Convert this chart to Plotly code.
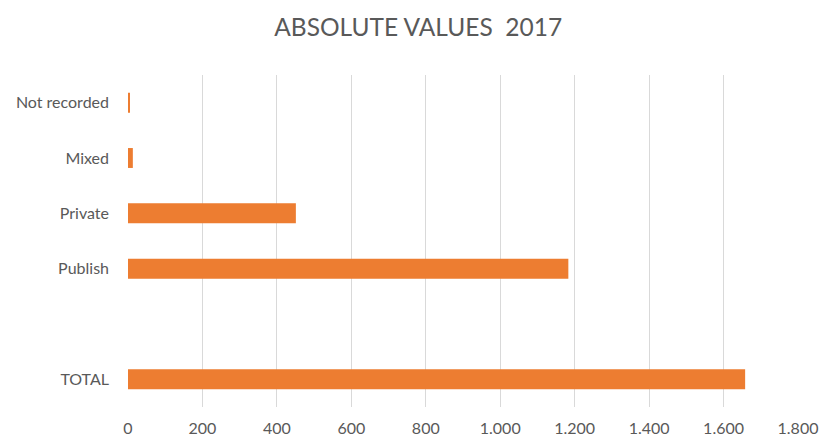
import plotly.graph_objects as go

categories = ["TOTAL", " ", "Publish", "Private", "Mixed", "Not recorded"]
values = [1658, None, 1183, 451, 13, 4]
x_ticks = [0, 200, 400, 600, 800, 1000, 1200, 1400, 1600, 1800]

fig = go.Figure(
    go.Bar(
        x=values,
        y=categories,
        orientation="h",
        width=0.36,
        marker=dict(color="#ED7D31", line=dict(width=0)),
    )
)

fig.update_layout(
    width=820,
    height=441,
    margin=dict(l=128, r=22, t=75, b=34),
    paper_bgcolor="white",
    plot_bgcolor="white",
    separators=",.",
    showlegend=False,
    font=dict(family="Lato", color="#595959", size=16),
    title=dict(
        text="ABSOLUTE VALUES  2017",
        x=0.51,
        xanchor="center",
        y=0.937,
        yanchor="middle",
        font=dict(family="Lato", size=24.5, color="#595959"),
    ),
)

fig.update_xaxes(
    range=[0, 1800],
    tickvals=x_ticks,
    tickformat=",d",
    showgrid=True,
    gridcolor="#D9D9D9",
    gridwidth=1,
    zeroline=False,
    showline=False,
    automargin=False,
    ticklabelstandoff=10,
    tickfont=dict(size=16, color="#595959"),
    fixedrange=True,
)

fig.update_yaxes(
    categoryorder="array",
    categoryarray=categories,
    range=[-0.5, 5.5],
    showgrid=False,
    zeroline=False,
    showline=False,
    automargin=False,
    ticklabelstandoff=18,
    tickfont=dict(size=16, color="#595959"),
    fixedrange=True,
)

fig.write_html("out.html")
